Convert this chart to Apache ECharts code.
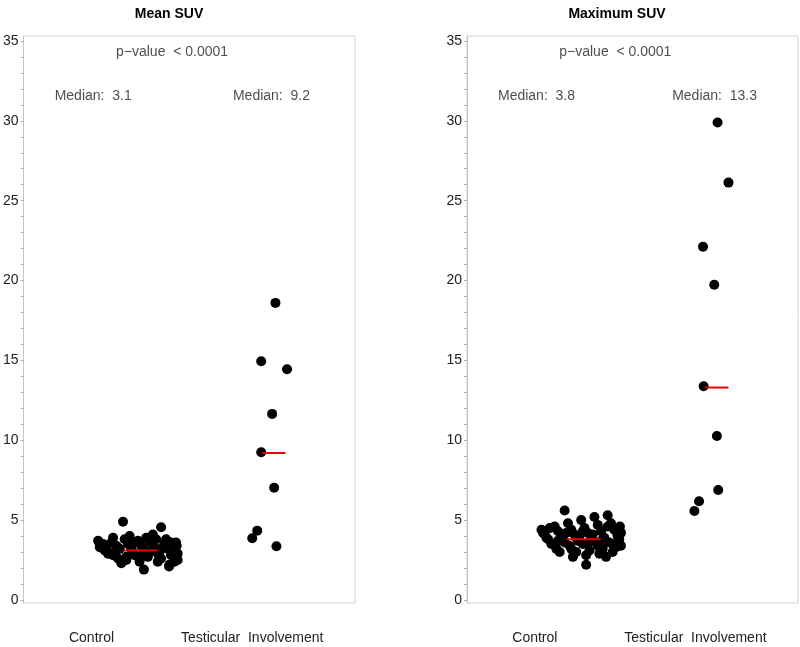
<!DOCTYPE html>
<html>
<head>
<meta charset="utf-8">
<script src="https://cdn.jsdelivr.net/npm/echarts@6/dist/echarts.min.js"></script>
<style>html,body{margin:0;padding:0;background:#fff}#c{width:800px;height:647px}</style>
</head>
<body>
<div id="c"></div>
<script>
// ---- data ----
const categories = ['Control', 'Testicular  Involvement'];
const panelTitles = ['Mean SUV', 'Maximum SUV'];
const pValueText = 'p\u2212value  < 0.0001';
const yTickLabels = [0, 5, 10, 15, 20, 25, 30, 35];

// Mean SUV – control (x = jitter position, y = value)
const meanControlX = [30.0, 41.5, 36.3, 43.9,
  22.5, 23.5, 24.5, 25.5, 23.0,
  26.5, 27.5, 28.5, 29.5, 27.0, 29.0,
  30.5, 31.5, 32.5, 33.5, 31.0, 33.0, 32.0,
  34.5, 35.5, 36.5, 37.5, 35.0, 37.0, 36.0,
  38.5, 39.5, 40.5, 41.5, 39.0, 41.0,
  42.5, 43.5, 44.5, 45.5, 43.0, 45.0, 44.0,
  46.2, 46.5, 46.0,
  24.0, 25.0, 28.0, 31.0, 33.5, 36.2, 38.0, 40.0, 42.0, 44.5, 45.5, 27.0, 35.0, 40.5, 46.5];
const meanControlY = [4.9, 4.55, 1.9, 2.1,
  3.7, 3.4, 3.1, 2.9, 3.3,
  3.6, 3.0, 2.6, 2.3, 3.9, 3.2,
  3.8, 3.5, 3.2, 2.8, 2.5, 3.0, 4.0,
  3.7, 3.4, 3.1, 2.7, 2.4, 3.9, 2.9,
  3.6, 3.3, 2.9, 2.6, 4.1, 3.0,
  3.5, 3.2, 2.8, 2.4, 3.8, 3.0, 2.2,
  3.4, 2.9, 3.6,
  3.5, 3.2, 3.4, 2.7, 3.6, 3.3, 3.0, 3.8, 3.3, 3.6, 3.2, 2.8, 2.6, 2.4, 2.5];
// Mean SUV – testicular involvement
const meanTestX = [76.0, 71.7, 79.5, 75.0, 71.7, 75.6, 70.5, 69.0, 76.3];
const meanTestY = [18.6, 14.95, 14.45, 11.65, 9.25, 7.03, 4.34, 3.86, 3.36];

// Maximum SUV – control
const maxControlX = [29.5, 36.0,
  22.5, 23.5, 24.5, 25.5, 23.0,
  26.5, 27.5, 28.5, 29.5, 27.0, 29.0, 28.0,
  30.5, 31.5, 32.5, 33.5, 31.0, 33.0, 32.0,
  34.5, 35.5, 36.5, 37.5, 35.0, 37.0, 36.0, 34.0,
  38.5, 39.5, 40.5, 41.5, 39.0, 41.0, 40.0,
  42.5, 43.5, 44.5, 45.5, 43.0, 45.0, 44.0, 42.0,
  46.2, 46.5, 46.0,
  24.0, 25.0, 27.5, 30.0, 31.5, 33.0, 35.0, 36.5, 38.0, 39.5, 41.0, 42.5, 44.0, 45.5, 46.5];
const maxControlY = [5.6, 2.2,
  4.4, 4.1, 3.8, 3.5, 4.2,
  4.6, 4.3, 3.9, 3.6, 3.2, 4.0, 3.0,
  4.8, 4.4, 4.1, 3.7, 3.4, 3.0, 2.7,
  5.0, 4.5, 4.2, 3.8, 3.5, 3.1, 2.8, 4.0,
  5.2, 4.7, 4.3, 3.9, 3.6, 3.2, 2.9,
  5.3, 4.8, 4.4, 4.0, 3.6, 3.3, 3.0, 2.7,
  4.6, 4.2, 3.8,
  3.9, 4.5, 3.7, 4.2, 3.2, 3.9, 4.3, 3.5, 4.1, 3.4, 3.8, 4.6, 3.5, 4.1, 3.4];
// Maximum SUV – testicular involvement
const maxTestX = [75.7, 79.0, 71.3, 74.7, 71.5, 75.5, 75.9, 70.1, 68.7];
const maxTestY = [29.89, 26.13, 22.12, 19.74, 13.38, 10.27, 6.89, 6.18, 5.57];

// medians
const meanMedians = [3.1, 9.2];
const maxMedians = [3.8, 13.3];
// median segment extents (x jitter units)
const medianSegX = [[30.2, 40.4], [72.0, 79.0]];

// ---- layout ----
const catLabelPos = [20.5, 69];
const panels = [
  {left: 23, right: 445, title: panelTitles[0], titleX: 164,
   cx: meanControlX, cy: meanControlY, tx: meanTestX, ty: meanTestY, med: meanMedians},
  {left: 467, right: 2, title: panelTitles[1], titleX: 612,
   cx: maxControlX, cy: maxControlY, tx: maxTestX, ty: maxTestY, med: maxMedians}
];
const FONT = '"Liberation Sans", Arial, Helvetica, sans-serif';
const zip = (a, b) => a.map((v, i) => [v, b[i]]);
const intTicks = [];
for (let i = 0; i <= 35; i++) intTicks.push(i);

const grid = [], xAxis = [], yAxis = [], series = [], title = [];
panels.forEach((p, i) => {
  grid.push({left: p.left, right: p.right, top: 36, bottom: 44, show: true,
    borderColor: '#d2d2d2', borderWidth: 1, backgroundColor: '#fff'});
  xAxis.push({type: 'value', gridIndex: i, min: 0, max: 100,
    axisLine: {show: false}, axisTick: {show: false}, splitLine: {show: false},
    axisLabel: {customValues: catLabelPos, margin: 28, color: '#222', fontSize: 14, fontFamily: FONT,
      formatter: v => categories[Math.abs(v - catLabelPos[0]) < 1 ? 0 : 1]}});
  yAxis.push({type: 'value', gridIndex: i, min: -0.19, max: 35.31,
    axisLine: {show: true, lineStyle: {color: '#c4c4c4', width: 1}},
    axisTick: {show: true, customValues: intTicks, length: 3, lineStyle: {color: '#b0b0b0'}},
    splitLine: {show: false},
    axisLabel: {customValues: yTickLabels, margin: 5, color: '#222', fontSize: 14, fontFamily: FONT}});
  title.push({text: p.title, left: p.titleX, top: 2, textAlign: 'center',
    textStyle: {fontSize: 14, fontWeight: 'bold', color: '#000', fontFamily: FONT}});
  series.push({type: 'scatter', xAxisIndex: i, yAxisIndex: i, symbolSize: 10,
    itemStyle: {color: '#000', opacity: 1}, data: zip(p.cx, p.cy), z: 3, silent: true});
  series.push({type: 'scatter', xAxisIndex: i, yAxisIndex: i, symbolSize: 10,
    itemStyle: {color: '#000', opacity: 1}, data: zip(p.tx, p.ty), z: 3, silent: true});
  p.med.forEach((m, k) => {
    series.push({type: 'line', xAxisIndex: i, yAxisIndex: i, symbol: 'none', silent: true, z: 5,
      lineStyle: {color: '#ee0000', width: 2}, data: [[medianSegX[k][0], m], [medianSegX[k][1], m]]});
  });
  // annotations
  series.push({type: 'scatter', xAxisIndex: i, yAxisIndex: i, symbolSize: 0, silent: true, z: 6,
    label: {show: true, position: 'inside', formatter: '{b}', color: '#222', fontSize: 14, fontFamily: FONT},
    data: [
      {name: pValueText, value: [44.8, 34.3]},
      {name: 'Median:  ' + p.med[0].toFixed(1), value: [21, 31.56]},
      {name: 'Median:  ' + p.med[1].toFixed(1), value: [74.8, 31.56]}
    ]});
});

const chart = echarts.init(document.getElementById('c'), null, {renderer: 'canvas'});
chart.setOption({animation: false, backgroundColor: '#fff', title, grid, xAxis, yAxis, series});
</script>
</body>
</html>
